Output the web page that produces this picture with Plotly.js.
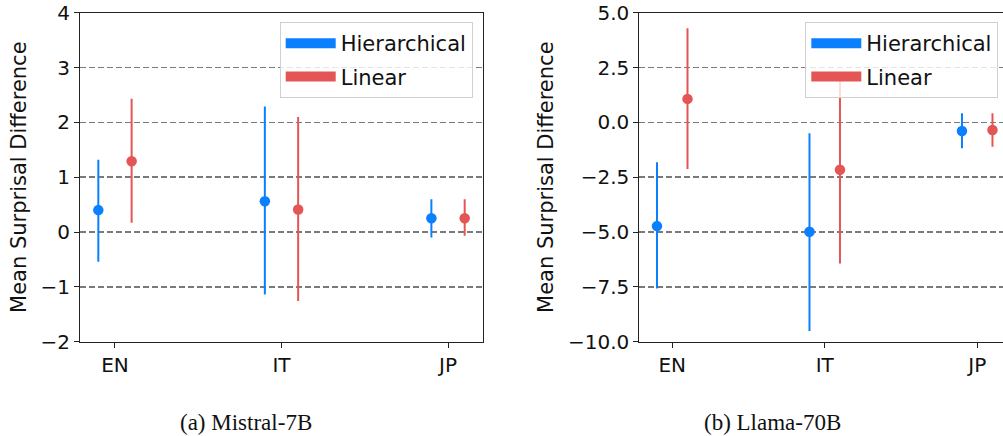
<!DOCTYPE html>
<html>
<head>
<meta charset="utf-8">
<script src="https://cdn.plot.ly/plotly-3.0.1.min.js"></script>
<style>html,body{margin:0;padding:0;background:#fff;}#chart{width:1003px;height:436px;}</style>
</head>
<body>
<div id="chart"></div>
<script>
// ---- data ----
const categories = ['EN', 'IT', 'JP'];
const seriesNames = ['Hierarchical', 'Linear'];

// (a) Mistral-7B
const mistralHierMean  = [0.40, 0.56, 0.25];
const mistralHierUpper = [1.32, 2.29, 0.60];
const mistralHierLower = [-0.54, -1.14, -0.10];
const mistralLinMean   = [1.29, 0.41, 0.25];
const mistralLinUpper  = [2.43, 2.10, 0.60];
const mistralLinLower  = [0.17, -1.26, -0.07];

// (b) Llama-70B
const llamaHierMean  = [-4.73, -4.99, -0.39];
const llamaHierUpper = [-1.82, -0.50, 0.41];
const llamaHierLower = [-7.57, -9.51, -1.18];
const llamaLinMean   = [1.07, -2.16, -0.35];
const llamaLinUpper  = [4.29, 2.10, 0.41];
const llamaLinLower  = [-2.13, -6.43, -1.11];

const yTicksA = [-2, -1, 0, 1, 2, 3, 4];
const yTicksB = [-10, -7.5, -5, -2.5, 0, 2.5, 5];
const captions = ['(a) Mistral-7B', '(b) Llama-70B'];
const yTitle = 'Mean Surprisal Difference';

// ---- style ----
const BLUE = '#0A80FF';
const RED = '#E45555';
const FONT = 'DejaVu Sans, sans-serif';
const W = 1003, H = 436;
const dodge = 0.1;

function errTrace(mean, upper, lower, color, offset, xa, ya) {
  return {
    type: 'scatter', mode: 'markers',
    x: categories.map((c, i) => i + offset),
    y: mean,
    xaxis: xa, yaxis: ya,
    marker: {color: color, size: 10.5},
    error_y: {
      type: 'data', symmetric: false,
      array: upper.map((u, i) => u - mean[i]),
      arrayminus: lower.map((l, i) => mean[i] - l),
      color: color, thickness: 2, width: 0
    },
    showlegend: false, hoverinfo: 'x+y'
  };
}
function legTrace(name, color, xa, ya, leg) {
  return {
    type: 'scatter', mode: 'lines', x: [null], y: [null],
    xaxis: xa, yaxis: ya, name: name, legend: leg, legendgroup: leg + name,
    line: {color: color, width: 16}, showlegend: true
  };
}

const data = [
  errTrace(mistralHierMean, mistralHierUpper, mistralHierLower, BLUE, -dodge, 'x', 'y'),
  errTrace(mistralLinMean, mistralLinUpper, mistralLinLower, RED, dodge, 'x', 'y'),
  errTrace(llamaHierMean, llamaHierUpper, llamaHierLower, BLUE, -dodge, 'x2', 'y2'),
  errTrace(llamaLinMean, llamaLinUpper, llamaLinLower, RED, dodge, 'x2', 'y2'),
  legTrace(seriesNames[0], BLUE, 'x', 'y', 'legend'),
  legTrace(seriesNames[1], RED, 'x', 'y', 'legend'),
  legTrace(seriesNames[0], BLUE, 'x2', 'y2', 'legend2'),
  legTrace(seriesNames[1], RED, 'x2', 'y2', 'legend2')
];

const yDom = [1 - 341.7 / H, 1 - 12.7 / H];
const tickFont = {family: FONT, size: 20, color: '#111'};
const commonX = {
  tickvals: categories.map((c, i) => i), ticktext: categories,
  showgrid: false, zeroline: false, showline: true, linecolor: '#222', linewidth: 1,
  ticks: 'outside', ticklen: 5, tickcolor: '#222', tickfont: tickFont, mirror: true,
  fixedrange: true
};
const commonY = {
  showgrid: true, gridcolor: '#7a7a7a', gridwidth: 1.6, griddash: '6px,3px',
  zeroline: false, showline: true, linecolor: '#222', linewidth: 1,
  ticks: 'outside', ticklen: 5, tickcolor: '#222', tickfont: tickFont,
  title: {text: yTitle, font: {family: FONT, size: 21, color: '#111'}, standoff: 8},
  automargin: false, fixedrange: true
};
const legendCommon = {
  bgcolor: 'rgba(255,255,255,0.8)', bordercolor: '#d0d0d0', borderwidth: 1,
  font: {family: FONT, size: 21, color: '#111'},
  xanchor: 'right', yanchor: 'top', itemwidth: 50, tracegroupgap: 3
};

const layout = {
  width: W, height: H,
  margin: {l: 0, r: 0, t: 0, b: 0},
  paper_bgcolor: '#fff', plot_bgcolor: '#fff',
  font: {family: FONT},
  xaxis: Object.assign({}, commonX, {domain: [80 / W, 483 / W], range: [-0.21, 2.21], anchor: 'y'}),
  yaxis: Object.assign({}, commonY, {domain: yDom, range: [-2, 4], tickvals: yTicksA,
    ticktext: yTicksA.map(v => v < 0 ? '\u2212' + Math.abs(v) : String(v)), mirror: true, anchor: 'x'}),
  xaxis2: Object.assign({}, commonX, {domain: [639.3 / W, 1], range: [-0.216, 2.169], anchor: 'y2'}),
  yaxis2: Object.assign({}, commonY, {domain: yDom, range: [-10, 5], tickvals: yTicksB,
    ticktext: yTicksB.map(v => (v < 0 ? '\u2212' : '') + Math.abs(v).toFixed(1)), mirror: false, anchor: 'x2'}),
  legend: Object.assign({}, legendCommon, {x: 472.7 / W, y: 1 - 22 / H}),
  legend2: Object.assign({}, legendCommon, {x: 998.3 / W, y: 1 - 22 / H}),
  annotations: [
    {text: captions[0], xref: 'paper', yref: 'paper', x: 246 / W, y: 1 - 422 / H,
     xanchor: 'center', yanchor: 'middle', showarrow: false,
     font: {family: 'Liberation Serif, Times New Roman, serif', size: 23, color: '#111'}},
    {text: captions[1], xref: 'paper', yref: 'paper', x: 772 / W, y: 1 - 422 / H,
     xanchor: 'center', yanchor: 'middle', showarrow: false,
     font: {family: 'Liberation Serif, Times New Roman, serif', size: 23, color: '#111'}}
  ]
};

Plotly.newPlot('chart', data, layout, {displayModeBar: false, staticPlot: true});
</script>
</body>
</html>
